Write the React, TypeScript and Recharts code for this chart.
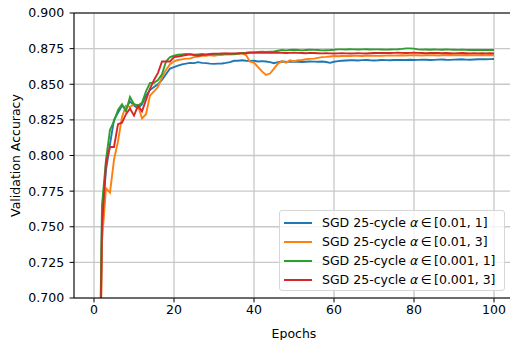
import React from 'react';
import { LineChart, Line, XAxis, YAxis, CartesianGrid, ReferenceLine, Legend } from 'recharts';

const epochs: number[] = Array.from({ length: 100 }, (_, i) => i + 1);

const seriesNames = ['[0.01, 1]', '[0.01, 3]', '[0.001, 1]', '[0.001, 3]'];
const seriesColors = ['#1f77b4', '#ff7f0e', '#2ca02c', '#d62728'];

const xTicks = [0, 20, 40, 60, 80, 100];
const yTicks = [0.7, 0.725, 0.75, 0.775, 0.8, 0.825, 0.85, 0.875, 0.9];

const sgdA01_1 = [
  0.55, 0.755, 0.79, 0.808, 0.825, 0.83, 0.835, 0.833, 0.838, 0.835,
  0.833, 0.836, 0.842, 0.846, 0.848, 0.85, 0.853, 0.857, 0.861, 0.862,
  0.863, 0.864, 0.8645, 0.865, 0.8648, 0.8655, 0.865, 0.8648, 0.8645, 0.8643,
  0.8645, 0.8646, 0.865, 0.8655, 0.8665, 0.8665, 0.8668, 0.8665, 0.8664, 0.8665,
  0.866, 0.8662, 0.866, 0.8655, 0.8648, 0.8655, 0.866, 0.8658, 0.8657, 0.866,
  0.8658, 0.8656, 0.8658, 0.866, 0.8659, 0.8658, 0.866, 0.8656, 0.865, 0.8658,
  0.8662, 0.8665, 0.8667, 0.8668, 0.8668, 0.8667, 0.8669, 0.867, 0.8668, 0.8667,
  0.8668, 0.867, 0.8669, 0.8668, 0.867, 0.8671, 0.867, 0.867, 0.8672, 0.867,
  0.8671, 0.8673, 0.8672, 0.867, 0.8671, 0.8673, 0.8674, 0.8672, 0.8671, 0.8673,
  0.8674, 0.8675, 0.8673, 0.8672, 0.8674, 0.8675, 0.8676, 0.8675, 0.8676, 0.8677,
];

const sgdA01_3 = [
  0.54, 0.74, 0.777, 0.774, 0.797, 0.81, 0.827, 0.835, 0.834, 0.836,
  0.835, 0.826, 0.829, 0.842, 0.845, 0.848, 0.855, 0.86, 0.864, 0.866,
  0.867, 0.8675, 0.868, 0.868, 0.869, 0.8695, 0.87, 0.87, 0.8705, 0.87,
  0.8705, 0.8705, 0.871, 0.8708, 0.871, 0.8712, 0.8717, 0.8705, 0.8658, 0.8652,
  0.862, 0.859, 0.8565, 0.8575, 0.861, 0.8645, 0.8662, 0.8652, 0.8668, 0.866,
  0.8668, 0.867, 0.8675, 0.8678, 0.868, 0.8685, 0.869, 0.8692, 0.8695, 0.8698,
  0.8697, 0.8698, 0.8699, 0.8698, 0.87, 0.8699, 0.8698, 0.87, 0.8701, 0.87,
  0.8699, 0.87, 0.8701, 0.8702, 0.8701, 0.8702, 0.8703, 0.8702, 0.8703, 0.8704,
  0.8703, 0.8702, 0.8703, 0.8704, 0.8703, 0.8702, 0.8703, 0.8704, 0.8705, 0.8704,
  0.8703, 0.8704, 0.8705, 0.8704, 0.8703, 0.8704, 0.8705, 0.8704, 0.8705, 0.8704,
];

const sgdA001_1 = [
  0.57, 0.765, 0.797, 0.818, 0.824, 0.832, 0.836, 0.831, 0.841, 0.836,
  0.835, 0.837, 0.845, 0.851, 0.851, 0.853, 0.857, 0.866, 0.869, 0.87,
  0.8708, 0.871, 0.8712, 0.871, 0.8708, 0.871, 0.8712, 0.871, 0.8709, 0.871,
  0.8712, 0.8713, 0.8715, 0.8713, 0.8712, 0.8715, 0.872, 0.8722, 0.8725, 0.8725,
  0.8727, 0.8728, 0.8726, 0.8728, 0.873, 0.8735, 0.874, 0.8738, 0.874, 0.8742,
  0.874, 0.8738, 0.874, 0.8742, 0.8741, 0.874, 0.8738, 0.8739, 0.874, 0.8742,
  0.8745, 0.8745, 0.8744, 0.8746, 0.8745, 0.8744, 0.8745, 0.8746, 0.8744, 0.8745,
  0.8745, 0.8744, 0.8743, 0.8744, 0.8745, 0.8746, 0.8748, 0.8752, 0.8752, 0.875,
  0.8745, 0.8743, 0.8744, 0.8742, 0.8744, 0.8743, 0.8742, 0.8744, 0.8743, 0.8742,
  0.8741, 0.8742, 0.8741, 0.874, 0.8741, 0.874, 0.8741, 0.874, 0.8741, 0.874,
];

const sgdA001_3 = [
  0.53, 0.75, 0.795, 0.806, 0.806, 0.822, 0.823, 0.829, 0.833, 0.828,
  0.835, 0.831, 0.839, 0.847, 0.853, 0.858, 0.866, 0.866, 0.866, 0.869,
  0.8695, 0.87, 0.8705, 0.871, 0.8705, 0.87, 0.8705, 0.8708, 0.8712, 0.8715,
  0.8715, 0.8716, 0.8717, 0.8716, 0.8717, 0.8718, 0.8717, 0.8718, 0.872, 0.872,
  0.872, 0.8721, 0.8722, 0.872, 0.8721, 0.8722, 0.872, 0.8719, 0.872, 0.8721,
  0.872, 0.8719, 0.8718, 0.872, 0.8719, 0.8718, 0.8717, 0.8718, 0.8717, 0.8716,
  0.8717, 0.8718, 0.8717, 0.8716, 0.8717, 0.8718, 0.8717, 0.8716, 0.8718, 0.8719,
  0.872, 0.8719, 0.872, 0.8719, 0.872, 0.8721, 0.872, 0.8719, 0.872, 0.8721,
  0.872, 0.8719, 0.8718, 0.8719, 0.872, 0.8719, 0.8718, 0.8719, 0.8718, 0.8717,
  0.8718, 0.8719, 0.8718, 0.8717, 0.8718, 0.8717, 0.8718, 0.8717, 0.8718, 0.8717,
];

const seriesValues = [sgdA01_1, sgdA01_3, sgdA001_1, sgdA001_3];
const keys = ['s0', 's1', 's2', 's3'];

const data = epochs.map((e, i) => {
  const row: Record<string, number> = { epoch: e };
  keys.forEach((k, j) => {
    row[k] = seriesValues[j][i];
  });
  return row;
});

const FONT = "'DejaVu Sans', sans-serif";
const FS = 12.5;

const renderLegend = () => (
  <div
    style={{
      boxSizing: 'border-box',
      width: 226,
      height: 81,
      border: '1px solid #d6d6d6',
      borderRadius: 3,
      background: 'rgba(255,255,255,0.8)',
      fontFamily: FONT,
      fontSize: FS,
      color: '#000',
      position: 'relative',
    }}
  >
    {seriesNames.map((n, i) => (
      <div
        key={n}
        style={{
          position: 'absolute',
          left: 0,
          top: 11.7 - 10 + i * 19.2,
          height: 20,
          lineHeight: '20px',
          whiteSpace: 'nowrap',
        }}
      >
        <span
          style={{
            position: 'absolute',
            left: 4,
            top: 9,
            width: 28,
            height: 2,
            background: seriesColors[i],
          }}
        />
        <span style={{ position: 'absolute', left: 42, top: 0 }}>
          SGD 25-cycle <i>α</i>&thinsp;∈&thinsp;{n}
        </span>
      </div>
    ))}
  </div>
);

const YLabel = (props: any) => {
  const vb = props.viewBox || {};
  const cy = (vb.y ?? 13) + (vb.height ?? 285) / 2;
  return (
    <text
      x={15}
      y={cy}
      transform={`rotate(-90, 15, ${cy})`}
      textAnchor="middle"
      dominantBaseline="central"
      fontFamily={FONT}
      fontSize={FS}
      fill="#000"
    >
      Validation Accuracy
    </text>
  );
};

export default function App() {
  return (
    <div style={{ position: 'absolute', left: 0, top: 0, width: 510, height: 340, overflow: 'hidden', background: '#fff' }}>
      <LineChart width={520} height={340} data={data} margin={{ top: 13, right: 6, bottom: 0, left: 0 }}>
        <CartesianGrid stroke="#c8c8c8" strokeWidth={1.3} />
        <XAxis
          dataKey="epoch"
          type="number"
          domain={[-5, 105]}
          ticks={xTicks}
          allowDataOverflow
          height={42}
          tickSize={4.4}
          tickMargin={2.6}
          axisLine={{ stroke: '#000', strokeWidth: 1 }}
          tickLine={{ stroke: '#000' }}
          tick={{ fontSize: FS, fill: '#000', fontFamily: FONT }}
          label={{ value: 'Epochs', position: 'insideBottom', offset: 2, fontSize: FS, fill: '#000', fontFamily: FONT }}
        />
        <YAxis
          type="number"
          domain={[0.7, 0.9]}
          ticks={yTicks}
          allowDataOverflow
          width={74}
          tickSize={4.4}
          tickMargin={5.5}
          axisLine={{ stroke: '#000', strokeWidth: 1 }}
          tickLine={{ stroke: '#000' }}
          tick={{ fontSize: FS, fill: '#000', fontFamily: FONT }}
          tickFormatter={(v: number) => v.toFixed(3)}
          label={<YLabel />}
        />
        <ReferenceLine y={0.9} stroke="#000" strokeWidth={1} />
        {keys.map((k, i) => (
          <Line
            key={k}
            dataKey={k}
            type="linear"
            stroke={seriesColors[i]}
            strokeWidth={1.9}
            dot={false}
            activeDot={false}
            isAnimationActive={false}
          />
        ))}
        <Legend
          layout="vertical"
          align="center"
          verticalAlign="middle"
          wrapperStyle={{ position: 'absolute', left: 279, top: 210, width: 226, height: 81 }}
          content={renderLegend}
        />
      </LineChart>
    </div>
  );
}
